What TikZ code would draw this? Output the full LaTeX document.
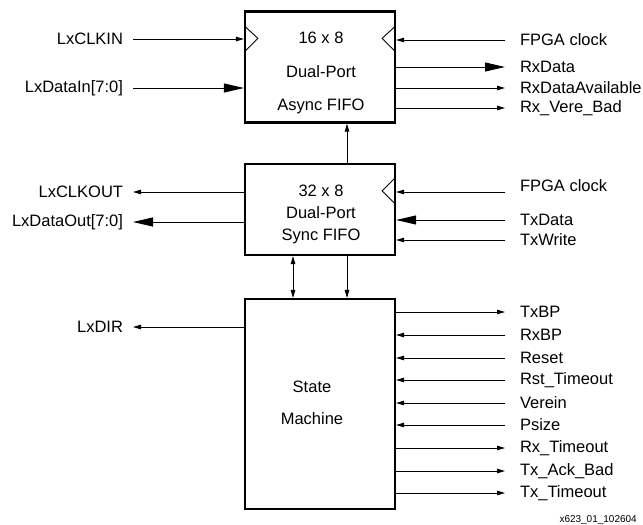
\documentclass[tikz,border=0pt]{standalone}
\usepackage{fontspec}
\setmainfont{Liberation Sans}
\usetikzlibrary{arrows.meta, positioning}

\begin{document}
\begin{tikzpicture}[
  x=1pt, y=-1pt,
  font=\fontsize{16.5}{19.8}\selectfont,
  block/.style={draw, line width=2.2pt, minimum width=150pt, inner sep=0pt},
  txt/.style={align=center, inner sep=0pt},
  lbl/.style={inner sep=0pt},
  rlbl/.style={lbl, anchor=west, outer xsep=15pt},
  llbl/.style={lbl, anchor=east, outer xsep=10pt},
  sig/.style={line width=0.9pt, -{Triangle[length=8pt,width=4.5pt]}},
  bus/.style={line width=0.9pt, -{Triangle[length=20pt,width=9pt]}},
  clk/.style={line width=0.9pt, line join=miter},
]
\useasboundingbox (0,0) rectangle (643,525);

% blocks
\node[block, minimum height=111pt] (asyncfifo) at (320,67) {};
\node[block, minimum height=91pt] (syncfifo) at (320,209.5) {};
\node[block, minimum height=210pt] (statem) at (320,404) {};
\node[txt] (asynctxt) at (321,73) {16 x 8\\[14pt]Dual-Port\\[14pt]Async FIFO};
\node[txt] (synctxt) at (321,214.5) {32 x 8\\[2pt]Dual-Port\\[2pt]Sync FIFO};
\node[txt] (statetxt) at (312,402.5) {State\\[12pt]Machine};

% clock marks
\draw[clk] (asyncfifo.north west) ++(1,16) -- ++(13,12) -- ++(-13,13);
\draw[clk] (asyncfifo.north east) ++(-1,16) -- ++(-13,12) -- ++(13,13);
\draw[clk] (syncfifo.north east) ++(-1,15) -- ++(-13,13) -- ++(13,13);

% async fifo signals
\node[llbl] (lxclkin) at (133,39) {LxCLKIN};
\node[llbl] (lxdatain) at (133,88) {LxDataIn[7:0]};
\node[rlbl] (fpgaclka) at (505,40) {FPGA clock};
\node[rlbl] (rxdata) at (505,67) {RxData};
\node[rlbl] (rxdataav) at (505,88) {RxDataAvailable};
\node[rlbl] (rxverebad) at (505,108) {Rx\_Vere\_Bad};

\draw[sig] (lxclkin.east) -- (asyncfifo.west |- lxclkin.east);
\draw[bus] (lxdatain.east) -- (asyncfifo.west |- lxdatain.east);
\draw[sig] (fpgaclka.west) -- (asyncfifo.east |- fpgaclka.west);
\draw[bus] (asyncfifo.east |- rxdata.west) -- (rxdata.west);
\draw[sig] (asyncfifo.east |- rxdataav.west) -- (rxdataav.west);
\draw[sig] (asyncfifo.east |- rxverebad.west) -- (rxverebad.west);

% sync fifo signals
\node[llbl] (lxclkout) at (133,192) {LxCLKOUT};
\node[llbl] (lxdataout) at (133,222) {LxDataOut[7:0]};
\node[rlbl, anchor=south west] (fpgaclkb) at (505,192) {FPGA clock};
\node[rlbl] (txdata) at (505,220) {TxData};
\node[rlbl] (txwrite) at (505,240) {TxWrite};

\draw[sig] (syncfifo.west |- lxclkout.east) -- (lxclkout.east);
\draw[bus] (syncfifo.west |- lxdataout.east) -- (lxdataout.east);
\draw[sig] (fpgaclkb.south west) -- (syncfifo.east |- fpgaclkb.south west);
\draw[bus] (txdata.west) -- (syncfifo.east |- txdata.west);
\draw[sig] (txwrite.west) -- (syncfifo.east |- txwrite.west);

% between blocks
\draw[sig] ([xshift=27pt]syncfifo.north) -- ([xshift=27pt]asyncfifo.south);
\draw[sig, {Triangle[length=8pt,width=4.5pt]}-{Triangle[length=8pt,width=4.5pt]}] ([xshift=-27pt]syncfifo.south) -- ([xshift=-27pt]statem.north);
\draw[sig] ([xshift=27pt]syncfifo.south) -- ([xshift=27pt]statem.north);

% state machine signals
\node[llbl] (lxdir) at (133,327) {LxDIR};
\node[rlbl] (txbp) at (505,312) {TxBP};
\node[rlbl] (rxbp) at (505,335) {RxBP};
\node[rlbl] (reset) at (505,358) {Reset};
\node[rlbl] (rsttimeout) at (505,380) {Rst\_Timeout};
\node[rlbl] (verein) at (505,403) {Verein};
\node[rlbl] (psize) at (505,425) {Psize};
\node[rlbl] (rxtimeout) at (505,448) {Rx\_Timeout};
\node[rlbl] (txackbad) at (505,471) {Tx\_Ack\_Bad};
\node[rlbl] (txtimeout) at (505,493) {Tx\_Timeout};

\draw[sig] (statem.west |- lxdir.east) -- (lxdir.east);
\draw[sig] (statem.east |- txbp.west) -- (txbp.west);
\draw[sig] (rxbp.west) -- (statem.east |- rxbp.west);
\draw[sig] (reset.west) -- (statem.east |- reset.west);
\draw[sig] (rsttimeout.west) -- (statem.east |- rsttimeout.west);
\draw[sig] (verein.west) -- (statem.east |- verein.west);
\draw[sig] (psize.west) -- (statem.east |- psize.west);
\draw[sig] (statem.east |- rxtimeout.west) -- (rxtimeout.west);
\draw[sig] (statem.east |- txackbad.west) -- (txackbad.west);
\draw[sig] (statem.east |- txtimeout.west) -- (txtimeout.west);

\node[font=\fontsize{10}{12}\selectfont, anchor=east, inner sep=0pt] (figid) at (637,520) {x623\_01\_102604};
\end{tikzpicture}
\end{document}
